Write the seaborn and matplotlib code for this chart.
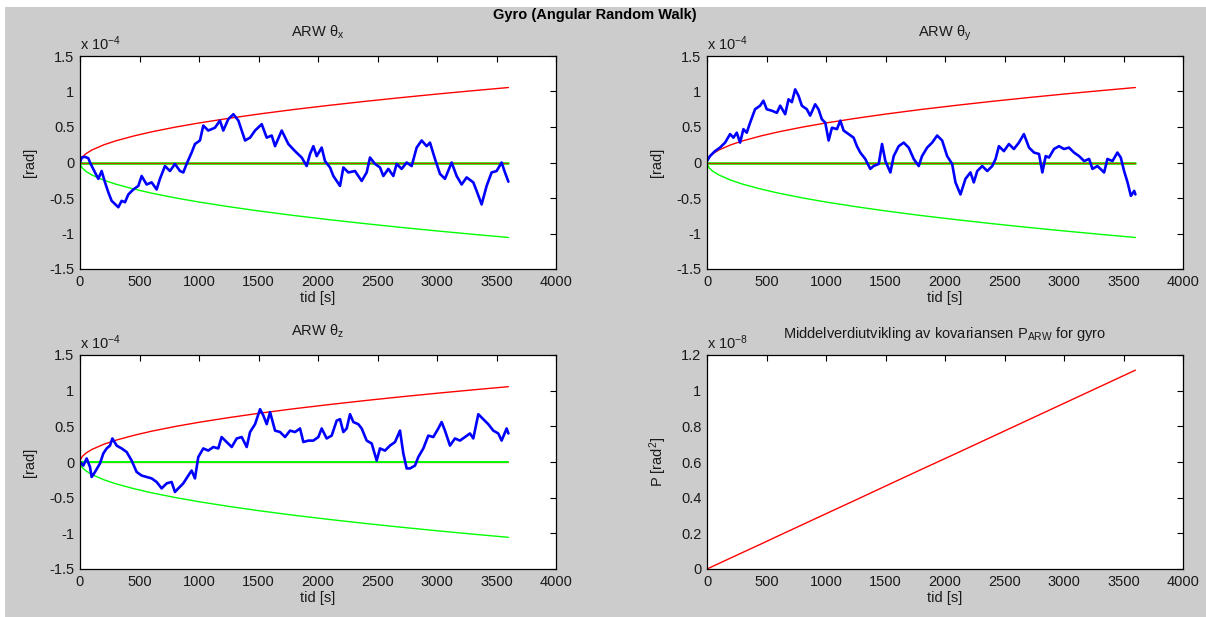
import numpy as np
import pandas as pd
import matplotlib
matplotlib.use("Agg")
import matplotlib.pyplot as plt
from matplotlib.patches import Rectangle
from matplotlib.ticker import FuncFormatter
import seaborn as sns

# ---------------- data ----------------
# angular random walk theta_x  [x 1e-4 rad]
tx = [0, 14, 42, 70, 84, 126, 154, 182, 210, 238, 266, 322, 350, 378, 406, 448, 490, 518, 560,
      602, 644, 672, 714, 756, 798, 840, 868, 896, 938, 966, 1008, 1036, 1078, 1134, 1176, 1204,
      1246, 1289, 1331, 1387, 1429, 1471, 1527, 1569, 1611, 1639, 1695, 1751, 1807, 1863, 1905,
      1933, 1961, 1989, 2031, 2059, 2101, 2129, 2185, 2213, 2255, 2311, 2367, 2409, 2437, 2479,
      2521, 2549, 2591, 2633, 2661, 2703, 2745, 2787, 2829, 2871, 2913, 2941, 2983, 3025, 3067,
      3123, 3165, 3207, 3249, 3305, 3333, 3375, 3417, 3459, 3501, 3543, 3571, 3600]
thx = [0.0, 0.07, 0.08, 0.06, 0.0, -0.14, -0.23, -0.12, -0.28, -0.42, -0.54, -0.63, -0.54, -0.56,
       -0.45, -0.38, -0.33, -0.19, -0.31, -0.28, -0.38, -0.23, -0.05, -0.12, -0.02, -0.12, -0.14,
       -0.02, 0.14, 0.26, 0.31, 0.52, 0.45, 0.49, 0.59, 0.45, 0.61, 0.68, 0.59, 0.31, 0.35, 0.45,
       0.54, 0.35, 0.38, 0.23, 0.45, 0.26, 0.16, 0.07, -0.05, 0.12, 0.23, 0.09, 0.21, 0.02, -0.07,
       -0.19, -0.33, -0.07, -0.14, -0.12, -0.26, -0.14, 0.07, -0.02, -0.07, -0.19, -0.09, -0.19,
       -0.02, -0.09, 0.0, -0.05, 0.21, 0.31, 0.23, 0.28, 0.05, -0.16, -0.23, 0.0, -0.19, -0.31,
       -0.21, -0.28, -0.40, -0.59, -0.33, -0.14, -0.12, 0.0, -0.14, -0.27]

# theta_y
ty = [0, 25, 67, 109, 152, 194, 222, 250, 278, 306, 334, 362, 404, 446, 474, 502, 544, 587, 615,
      657, 685, 713, 741, 769, 797, 839, 867, 909, 937, 965, 994, 1022, 1050, 1092, 1120, 1148,
      1190, 1232, 1260, 1288, 1330, 1372, 1400, 1443, 1471, 1499, 1541, 1569, 1611, 1653, 1695,
      1737, 1779, 1807, 1850, 1892, 1934, 1976, 2018, 2060, 2088, 2130, 2172, 2214, 2242, 2271,
      2313, 2355, 2397, 2425, 2453, 2495, 2537, 2579, 2621, 2663, 2706, 2748, 2790, 2818, 2846,
      2874, 2916, 2958, 3000, 3042, 3084, 3127, 3169, 3211, 3239, 3281, 3337, 3365, 3407, 3449,
      3477, 3505, 3534, 3562, 3590, 3600]
thy = [0.02, 0.09, 0.16, 0.21, 0.28, 0.40, 0.35, 0.42, 0.28, 0.47, 0.42, 0.56, 0.75, 0.80, 0.87,
       0.75, 0.73, 0.70, 0.80, 0.68, 0.89, 0.85, 1.03, 0.94, 0.80, 0.75, 0.66, 0.82, 0.75, 0.61,
       0.56, 0.31, 0.49, 0.47, 0.59, 0.45, 0.40, 0.35, 0.23, 0.14, 0.05, -0.09, -0.05, -0.02, 0.26,
       0.02, -0.14, 0.09, 0.23, 0.28, 0.21, 0.05, -0.05, 0.09, 0.21, 0.28, 0.38, 0.31, 0.09, -0.02,
       -0.28, -0.45, -0.23, -0.14, -0.28, -0.12, -0.05, -0.12, -0.05, 0.05, 0.23, 0.16, 0.26, 0.19,
       0.28, 0.40, 0.21, 0.14, 0.12, -0.14, 0.09, 0.07, 0.19, 0.23, 0.19, 0.21, 0.14, 0.09, 0.02,
       0.05, -0.09, -0.05, -0.14, 0.05, 0.02, 0.14, 0.07, -0.12, -0.28, -0.47, -0.40, -0.45]

# theta_z
tz = [0, 28, 56, 84, 98, 126, 168, 196, 224, 252, 272, 308, 350, 392, 434, 476, 518, 560, 602,
      644, 686, 728, 770, 798, 826, 868, 910, 938, 966, 994, 1036, 1078, 1120, 1162, 1190, 1232,
      1275, 1317, 1359, 1401, 1429, 1471, 1513, 1541, 1569, 1597, 1639, 1681, 1723, 1765, 1807,
      1849, 1877, 1919, 1961, 2003, 2031, 2073, 2115, 2157, 2185, 2213, 2241, 2269, 2297, 2339,
      2367, 2409, 2451, 2493, 2521, 2563, 2605, 2647, 2689, 2717, 2745, 2773, 2815, 2843, 2885,
      2927, 2969, 3011, 3039, 3067, 3109, 3151, 3193, 3235, 3277, 3305, 3347, 3389, 3431, 3473,
      3515, 3543, 3585, 3600]
thz = [0.0, -0.05, 0.05, -0.07, -0.21, -0.14, -0.02, 0.12, 0.19, 0.23, 0.33, 0.23, 0.19, 0.14,
       0.02, -0.14, -0.19, -0.21, -0.23, -0.28, -0.37, -0.30, -0.28, -0.42, -0.37, -0.30, -0.19,
       -0.12, -0.23, 0.07, 0.19, 0.16, 0.21, 0.19, 0.35, 0.28, 0.21, 0.33, 0.35, 0.21, 0.42, 0.53,
       0.74, 0.65, 0.53, 0.70, 0.44, 0.42, 0.35, 0.44, 0.42, 0.47, 0.28, 0.30, 0.30, 0.35, 0.47,
       0.33, 0.37, 0.58, 0.60, 0.42, 0.47, 0.67, 0.56, 0.53, 0.47, 0.30, 0.26, 0.02, 0.19, 0.16,
       0.23, 0.28, 0.44, 0.12, -0.09, -0.09, -0.05, 0.07, 0.19, 0.37, 0.35, 0.47, 0.56, 0.44,
       0.23, 0.33, 0.30, 0.35, 0.40, 0.33, 0.67, 0.60, 0.53, 0.44, 0.40, 0.30, 0.47, 0.40]

# mean covariance P_ARW [x 1e-8 rad^2]
t_env = [0, 1, 2, 5, 20, 50, 100, 200, 300, 450, 600, 800, 1000, 1250, 1500, 1800, 2100, 2400,
         2700, 3000, 3300, 3600]
P_env = [0.0, 0.00031, 0.00062, 0.00155, 0.0062, 0.0155, 0.031, 0.062, 0.0929, 0.139, 0.186,
         0.248, 0.310, 0.387, 0.465, 0.558, 0.650, 0.743, 0.836, 0.929, 1.022, 1.115]

titles = ["ARW θ$_x$", "ARW θ$_y$", "ARW θ$_z$",
          "Middelverdiutvikling av kovariansen P$_{ARW}$ for gyro"]
suptitle = "Gyro (Angular Random Walk)"

# ---------------- style ----------------
sns.set_theme(style="white")
plt.rcParams['font.family'] = ['Liberation Sans', 'DejaVu Sans']
plt.rcParams['mathtext.fontset'] = 'custom'
plt.rcParams['mathtext.rm'] = 'Liberation Sans'
plt.rcParams['mathtext.it'] = 'Liberation Sans'
plt.rcParams['mathtext.default'] = 'regular'
plt.rcParams['axes.unicode_minus'] = False
FS = 10.5

BLUE, RED, GREEN = "#0000ff", "#ff0000", "#00ff00"
GRAY = "#cccccc"
TXT = "#1a1a1a"

W, H = 1206, 617
fig = plt.figure(figsize=(W / 100, H / 100), dpi=100)
fig.patch.set_facecolor("white")
fig.patches.append(Rectangle((5 / W, 0), 1 - 5 / W, 1 - 7 / H, transform=fig.transFigure,
                             facecolor=GRAY, edgecolor="none", zorder=-10))


def box(l, t, r, b):
    return [l / W, 1 - b / H, (r - l) / W, (b - t) / H]


pos = [box(80, 56, 556, 269), box(707, 56, 1183, 269),
       box(80, 355, 556, 569), box(707, 355, 1183, 569)]
axes = [fig.add_axes(p) for p in pos]

fmt = FuncFormatter(lambda v, p: "%g" % round(v, 6))


def style(ax, yticks, ylim, exp):
    ax.set_facecolor("white")
    ax.set_xlim(0, 4000)
    ax.set_ylim(*ylim)
    ax.set_xticks(np.arange(0, 4001, 500))
    ax.set_yticks(yticks)
    ax.xaxis.set_major_formatter(fmt)
    ax.yaxis.set_major_formatter(fmt)
    ax.tick_params(direction="in", length=4, width=0.8, top=True, right=True,
                   labelsize=FS, colors="black", labelcolor=TXT, pad=4)
    for s in ax.spines.values():
        s.set_color("black")
        s.set_linewidth(0.9)
        s.set_visible(True)
    ax.set_xlabel("tid [s]", fontsize=FS, labelpad=2, color=TXT)
    ax.text(0.0, 1.015, "x 10$^{%d}$" % exp, transform=ax.transAxes, ha="left", va="bottom",
            fontsize=FS, color=TXT)


walks = [(tx, thx), (ty, thy), (tz, thz)]
sig = np.sqrt(np.array(P_env))
for i, (t, v) in enumerate(walks):
    ax = axes[i]
    env = pd.DataFrame({"t": t_env, "up": sig, "lo": -sig, "zero": 0.0 * sig})
    sns.lineplot(data=env, x="t", y="up", ax=ax, color=RED, lw=1.0)
    sns.lineplot(data=env, x="t", y="lo", ax=ax, color=GREEN, lw=1.0)
    if i < 2:
        sns.lineplot(data=env, x="t", y="zero", ax=ax, color=GREEN, lw=1.9)
        sns.lineplot(data=env, x="t", y="zero", ax=ax, color=RED, lw=0.9, alpha=0.75)
    else:
        sns.lineplot(data=env, x="t", y="zero", ax=ax, color=RED, lw=0.9)
        sns.lineplot(data=env, x="t", y="zero", ax=ax, color=GREEN, lw=1.4)
    d = pd.DataFrame({"t": t, "v": v})
    sns.lineplot(data=d, x="t", y="v", ax=ax, color=BLUE, lw=1.9, sort=False, estimator=None)
    style(ax, np.arange(-1.5, 1.51, 0.5), (-1.5, 1.5), -4)
    ax.set_ylabel("[rad]", fontsize=FS, labelpad=9, color=TXT)
    ax.set_title(titles[i], fontsize=FS, pad=14, color=TXT)

ax = axes[3]
dP = pd.DataFrame({"t": t_env, "P": P_env})
sns.lineplot(data=dP, x="t", y="P", ax=ax, color=RED, lw=1.0)
style(ax, np.arange(0, 1.21, 0.2), (0, 1.2), -8)
ax.set_ylabel("P [rad$^2$]", fontsize=FS, labelpad=9, color=TXT)
ax.set_title(titles[3], fontsize=FS, pad=12, color=TXT)

fig.text(0.493, 1 - 15 / H, suptitle, ha="center", va="center", fontsize=FS, weight="bold",
         color="black")

fig.savefig("out.png", dpi=100, facecolor=fig.get_facecolor())
